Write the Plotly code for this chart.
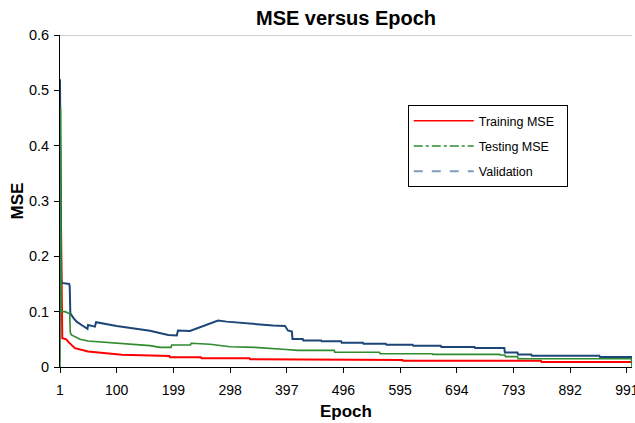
import plotly.graph_objects as go

# ---- data (epoch breakpoints, MSE values) ----
train_epochs = [1, 2, 4, 5, 12, 16, 27, 50, 109, 167, 192, 193, 247, 248, 332, 333,
                445, 446, 599, 600, 841, 842, 1000]
train_mse = [0.42, 0.30, 0.17, 0.052, 0.050, 0.045, 0.034, 0.028, 0.022, 0.020, 0.020, 0.0175,
             0.0175, 0.0157, 0.0157, 0.0140, 0.0140, 0.0127, 0.0127, 0.0112, 0.0112, 0.009, 0.009]

test_epochs = [1, 2, 3, 10, 18, 19, 21, 36, 50, 100, 158, 176, 195, 196, 229, 230, 263, 298,
               341, 390, 414, 416, 480, 481, 559, 560, 651, 652, 769, 770, 778, 779, 800, 801,
               999, 1000]
test_mse = [0.0, 0.47, 0.10, 0.10, 0.096, 0.062, 0.058, 0.050, 0.047, 0.043, 0.0386, 0.0355,
            0.0355, 0.0398, 0.0398, 0.0428, 0.041, 0.0367, 0.0355, 0.032, 0.031, 0.030, 0.030,
            0.0266, 0.0266, 0.0240, 0.0240, 0.0228, 0.0228, 0.0216, 0.0216, 0.0187, 0.0187,
            0.015, 0.015, 0.0]

val_epochs = [1, 2, 3, 4, 17, 18, 19, 25, 30, 40, 49, 50, 62, 64, 100, 158, 190, 205, 207,
              228, 245, 263, 277, 292, 321, 350, 373, 394, 399, 406, 407, 425, 426, 457, 458,
              492, 493, 530, 531, 570, 571, 617, 618, 666, 667, 725, 726, 777, 778, 800, 801,
              824, 825, 943, 944, 1000]
val_mse = [0.52, 0.30, 0.16, 0.152, 0.15, 0.145, 0.097, 0.088, 0.082, 0.075, 0.069, 0.076,
           0.073, 0.081, 0.074, 0.0655, 0.058, 0.057, 0.066, 0.065, 0.072, 0.079, 0.084, 0.082,
           0.080, 0.077, 0.075, 0.074, 0.066, 0.064, 0.0505, 0.0505, 0.048, 0.048, 0.0465,
           0.0465, 0.044, 0.044, 0.042, 0.042, 0.040, 0.040, 0.0385, 0.0385, 0.036, 0.036,
           0.0345, 0.0345, 0.026, 0.026, 0.0225, 0.0225, 0.0204, 0.0204, 0.018, 0.018]

x_tick_vals = [1, 100, 199, 298, 397, 496, 595, 694, 793, 892, 991]
y_tick_vals = [0, 0.1, 0.2, 0.3, 0.4, 0.5, 0.6]
y_tick_text = ["0", "0.1", "0.2", "0.3", "0.4", "0.5", "0.6"]

RED = "#ff0000"
GREEN = "#2e8b2e"
BLUE = "#1b4677"
FONT = "Liberation Sans, Arial, sans-serif"
NB = "\u00a0"

fig = go.Figure()
fig.add_trace(go.Scatter(x=train_epochs, y=train_mse, mode="lines",
                         line=dict(color=RED, width=2), showlegend=False))
fig.add_trace(go.Scatter(x=val_epochs, y=val_mse, mode="lines",
                         line=dict(color=BLUE, width=2), showlegend=False))
fig.add_trace(go.Scatter(x=test_epochs, y=test_mse, mode="lines",
                         line=dict(color=GREEN, width=1.6), showlegend=False))

# legend entries
fig.add_trace(go.Scatter(x=[None], y=[None], mode="lines", name="Training MSE" + NB * 2,
                         legendgroup="a", line=dict(color=RED, width=1.5)))
fig.add_trace(go.Scatter(x=[None], y=[None], mode="lines", name="Testing MSE",
                         legendgroup="b", line=dict(color=GREEN, width=1.5, dash="dashdot")))
fig.add_trace(go.Scatter(x=[None], y=[None], mode="lines", name="Validation",
                         legendgroup="c", line=dict(color="#7f9cbd", width=2, dash="dash")))

fig.update_layout(
    width=635, height=423,
    margin=dict(l=60, r=3, t=35, b=56, autoexpand=False),
    paper_bgcolor="white", plot_bgcolor="white",
    font=dict(family=FONT, size=14, color="black"),
    title=dict(text="<b>MSE versus Epoch</b>", x=(60 + 632) / 2 / 635, xanchor="center",
               y=1 - 18 / 423, yanchor="middle", font=dict(size=20, family=FONT)),
    legend=dict(x=0.608, y=0.795 - 2 / 332, xanchor="left", yanchor="top",
                bordercolor="black", borderwidth=1, bgcolor="white",
                font=dict(size=12.5, family=FONT), tracegroupgap=6, itemwidth=60),
    showlegend=True,
)
fig.update_xaxes(range=[1, 1000], tickvals=x_tick_vals, ticktext=[str(v) for v in x_tick_vals],
                 showgrid=False, zeroline=False, showline=True, linecolor="black", linewidth=1,
                 ticks="outside", ticklen=5, tickcolor="black", automargin=False,
                 ticklabelstandoff=5, ticklabeloverflow="allow", tickfont=dict(size=14),
                 title=dict(text="<b>Epoch</b>", font=dict(size=17, family=FONT), standoff=8))
fig.update_yaxes(range=[0, 0.6], tickvals=y_tick_vals, ticktext=y_tick_text,
                 showgrid=False, zeroline=False, showline=True, linecolor="black", linewidth=1,
                 ticks="outside", ticklen=5, tickcolor="black", automargin=False,
                 ticklabelstandoff=2, tickfont=dict(size=14.5),
                 title=dict(text="<b>MSE</b>", font=dict(size=17, family=FONT), standoff=0))
fig.add_shape(type="line", xref="paper", yref="y", x0=0, x1=1, y0=0.6, y1=0.6,
              line=dict(color="#a0a0a0", width=1), layer="below")

fig.write_html("out.html", config={"displayModeBar": False},
               post_script="document.body.style.margin='0';document.body.style.overflow='hidden';")
